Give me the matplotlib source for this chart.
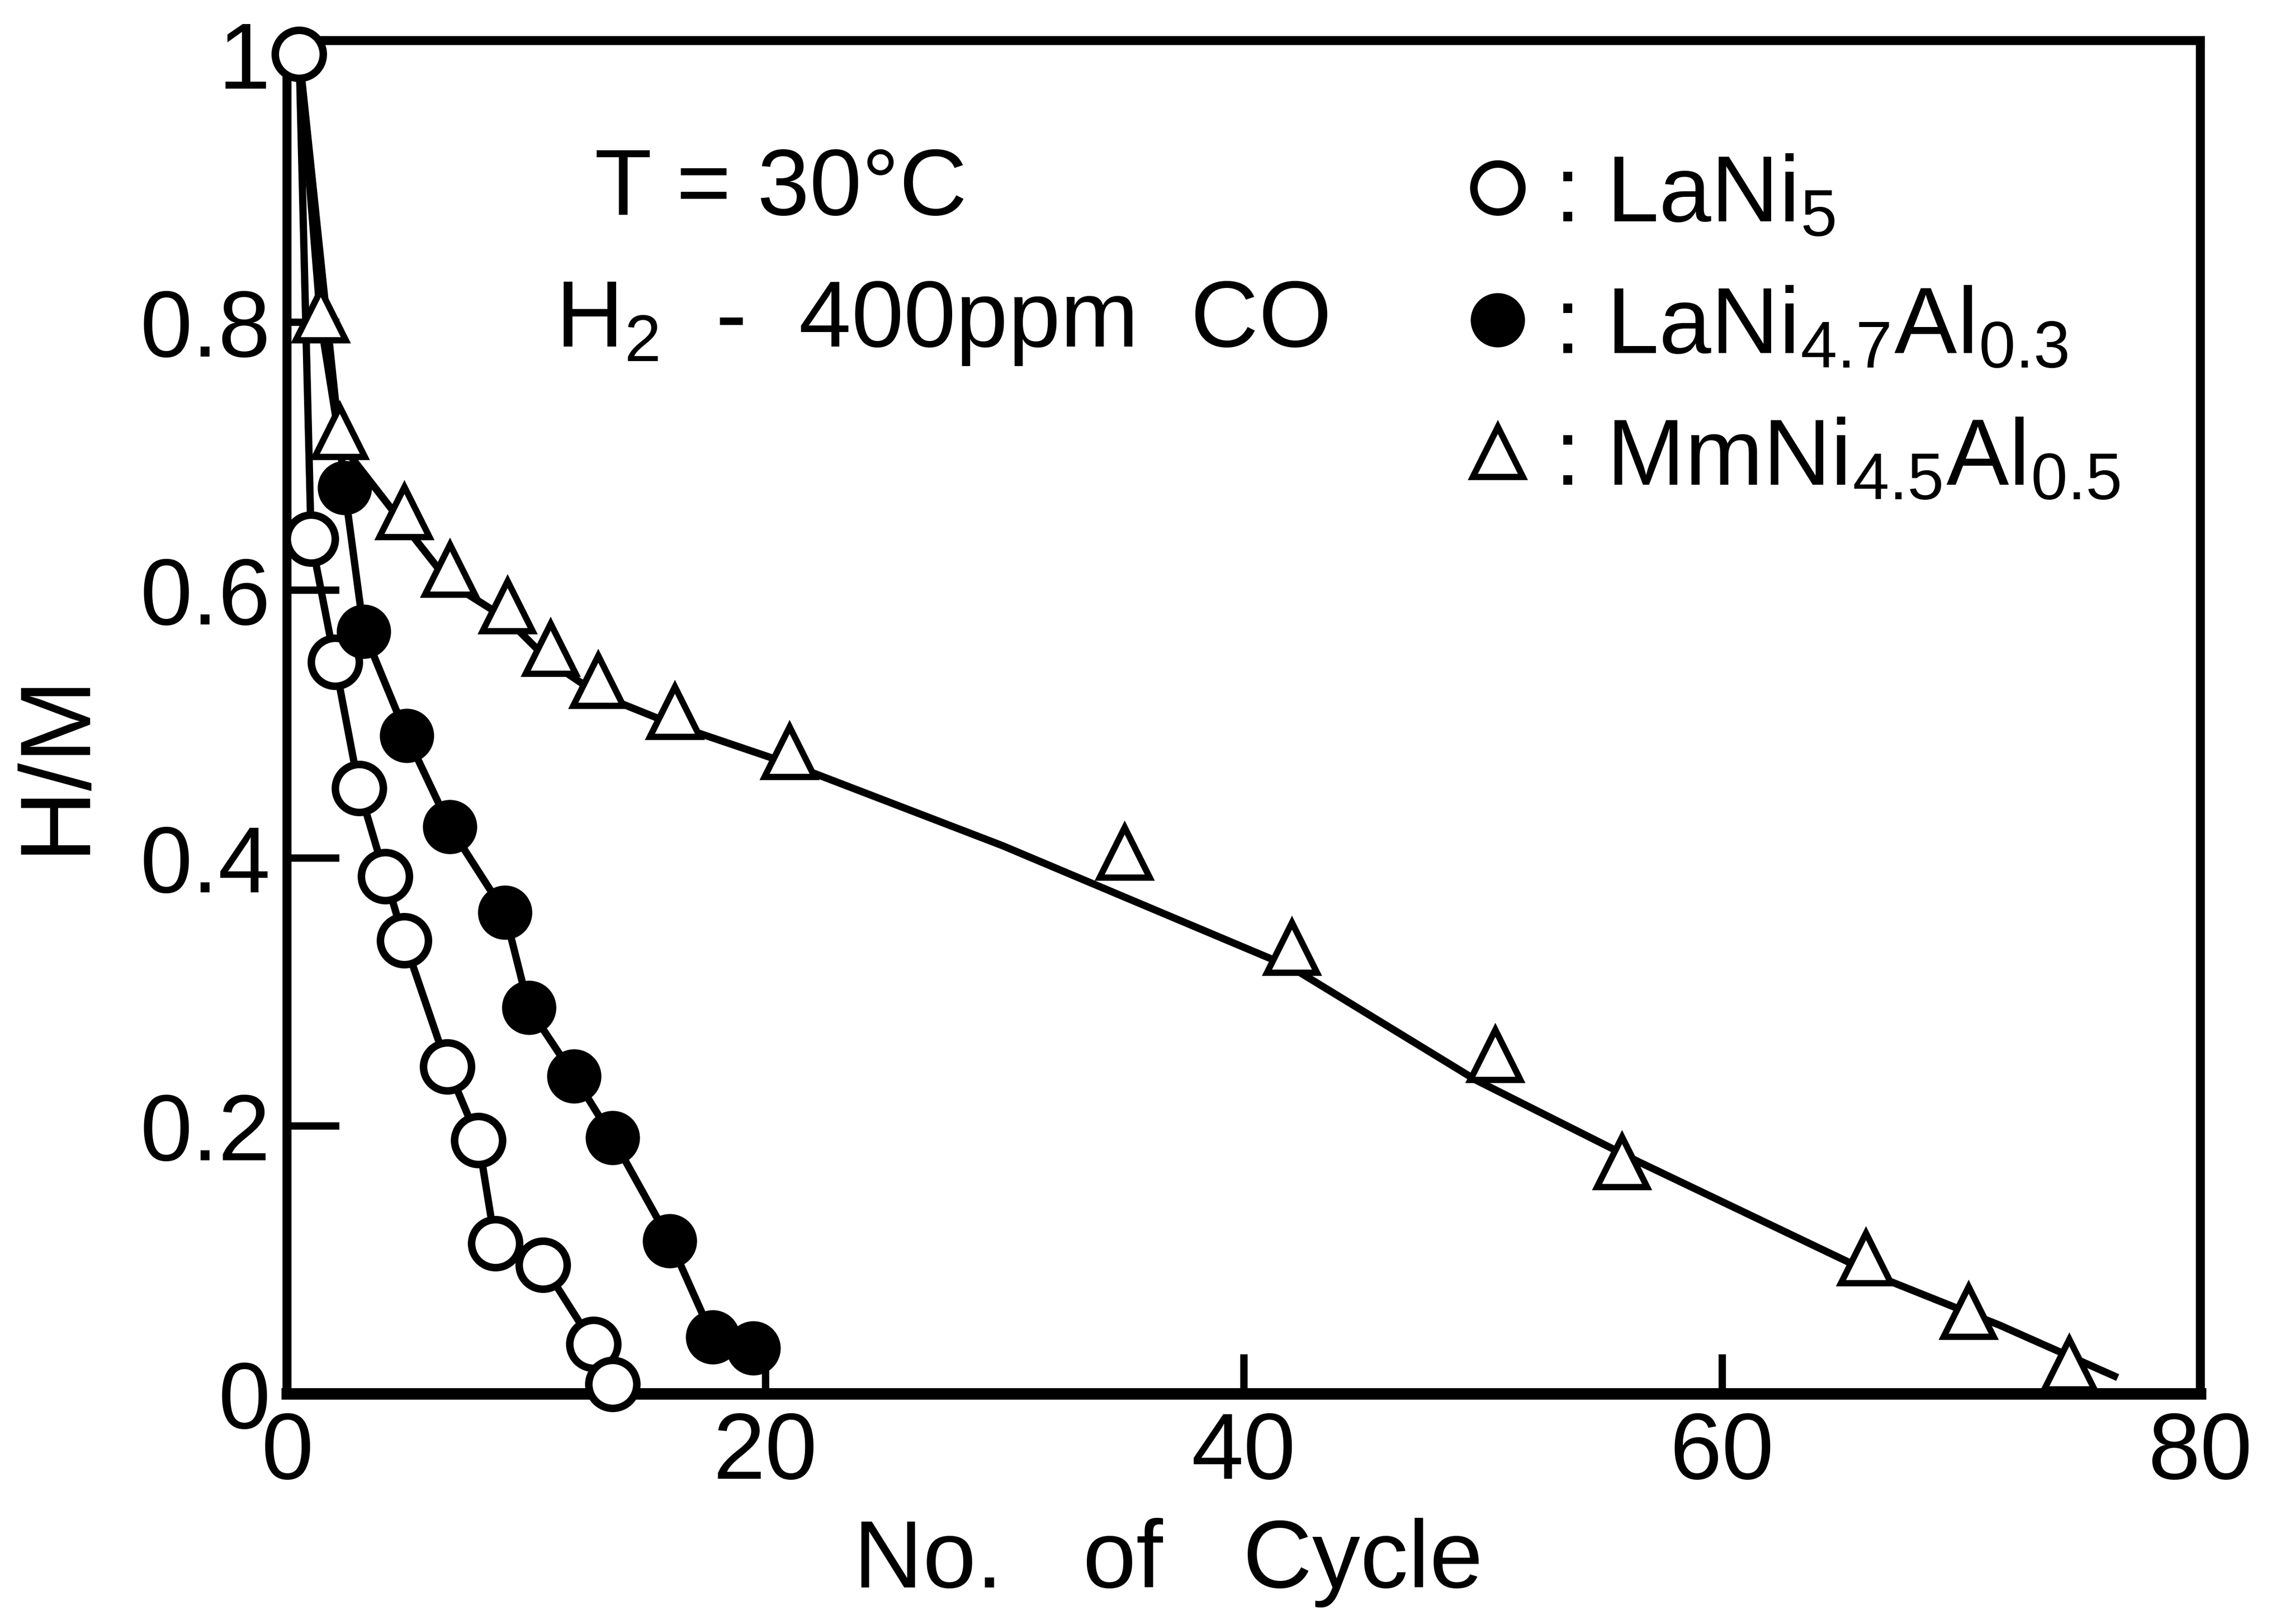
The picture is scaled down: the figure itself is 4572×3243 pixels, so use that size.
import numpy as np
import matplotlib.pyplot as plt

plt.rcParams['font.family'] = ['Liberation Sans', 'DejaVu Sans']
plt.rcParams['mathtext.default'] = 'regular'

# all three alloys start from H/M = 1
start_cycle = 0.5
start_hm = 1.0

# LaNi5 (open circles)
lani5_cycle = [0.5, 1.0, 2.0, 3.0, 4.1, 4.9, 6.7, 8.0, 8.7, 10.7, 12.8, 13.6]
lani5_hm = [1.0, 0.638, 0.546, 0.452, 0.386, 0.338, 0.244, 0.189, 0.112, 0.096, 0.037, 0.007]

# LaNi4.7Al0.3 (filled circles)
lanial_cycle = [2.4, 3.2, 5.0, 6.8, 9.1, 10.1, 12.0, 13.6, 16.0, 17.8, 19.5]
lanial_hm = [0.676, 0.569, 0.491, 0.423, 0.359, 0.288, 0.237, 0.191, 0.114, 0.042, 0.034]

# MmNi4.5Al0.5 (open triangles)
mmni_cycle = [1.4, 2.2, 4.9, 6.8, 9.2, 11.0, 13.0, 16.2, 21.0, 35.0, 42.0, 50.5, 55.8, 66.0, 70.3, 74.5]
mmni_hm = [0.805, 0.718, 0.658, 0.615, 0.588, 0.556, 0.532, 0.509, 0.479, 0.404, 0.333, 0.253, 0.173, 0.101, 0.061, 0.022]

# smooth curve drawn through the MmNi4.5Al0.5 points
mmni_curve_cycle = [0.5, 1.4, 2.2, 4.9, 6.8, 9.2, 11.0, 13.0, 16.2, 21.0, 29.9, 42.0, 49.7, 56.5, 66.7, 71.6, 76.4]
mmni_curve_hm = [1.0, 0.80, 0.71, 0.648, 0.605, 0.578, 0.546, 0.522, 0.499, 0.470, 0.409, 0.318, 0.234, 0.173, 0.086, 0.051, 0.013]

xticks = [0, 20, 40, 60, 80]
yticks = [0, 0.2, 0.4, 0.6, 0.8, 1.0]
ytick_labels = ['0', '0.2', '0.4', '0.6', '0.8', '1']

fig = plt.figure(figsize=(15.24, 10.8133), dpi=300)
ax = fig.add_axes([0.1254, 0.1419, 0.8355, 0.8329])

lw = 3.5
ax.plot(lani5_cycle, lani5_hm, 'k-', lw=lw, zorder=2)
ax.plot([start_cycle] + lanial_cycle, [start_hm] + lanial_hm, 'k-', lw=lw, zorder=2)
ax.plot(mmni_curve_cycle, mmni_curve_hm, 'k-', lw=lw, zorder=2)

h1, = ax.plot(lani5_cycle, lani5_hm, 'o', ms=23, mfc='white', mec='black', mew=3.6,
              ls='none', zorder=4, clip_on=False)
h2, = ax.plot(lanial_cycle, lanial_hm, 'o', ms=24, mfc='black', mec='black', mew=2,
              ls='none', zorder=4, clip_on=False)
h3, = ax.plot(mmni_cycle, mmni_hm, '^', ms=24, mfc='white', mec='black', mew=3.0,
              ls='none', zorder=4, clip_on=False)

ax.set_xlim(0, 80)
ax.set_ylim(0, 1.01)
ax.set_xticks(xticks)
ax.set_yticks(yticks)
ax.set_yticklabels(ytick_labels)
ax.tick_params(axis='y', direction='in', length=25, width=3.5, labelsize=45, pad=8)
ax.tick_params(axis='x', direction='in', length=19, width=3.5, labelsize=45, pad=8)
for t in (ax.xaxis.get_major_ticks()[0], ax.xaxis.get_major_ticks()[-1],
          ax.yaxis.get_major_ticks()[0], ax.yaxis.get_major_ticks()[-1]):
    t.tick1line.set_visible(False)

for s in ax.spines.values():
    s.set_linewidth(4.3)
ax.spines['bottom'].set_linewidth(5.5)

ax.set_xlabel('No.   of   Cycle', fontsize=46, va='center')
ax.xaxis.set_label_coords(0.4606, -0.1248)
ax.set_ylabel('H/M', fontsize=48, va='center')
ax.yaxis.set_label_coords(-0.1206, 0.4665)

ax.text(0.1606, 0.8716, 'T = 30°C', fontsize=45, ha='left', va='baseline',
        transform=ax.transAxes)
ax.text(0.1403, 0.7742, 'H$_2$  -  400ppm  CO', fontsize=45, ha='left', va='baseline',
        transform=ax.transAxes)

ax.legend([h1, h2, h3],
          [': LaNi$_5$', ': LaNi$_{4.7}$Al$_{0.3}$', ': MmNi$_{4.5}$Al$_{0.5}$'],
          loc='upper left', bbox_to_anchor=(0.6131, 0.917), frameon=False,
          fontsize=45, handlelength=0.8, handletextpad=0.2, borderpad=0,
          borderaxespad=0, labelspacing=0.47)

fig.savefig('out.png', dpi=300)
